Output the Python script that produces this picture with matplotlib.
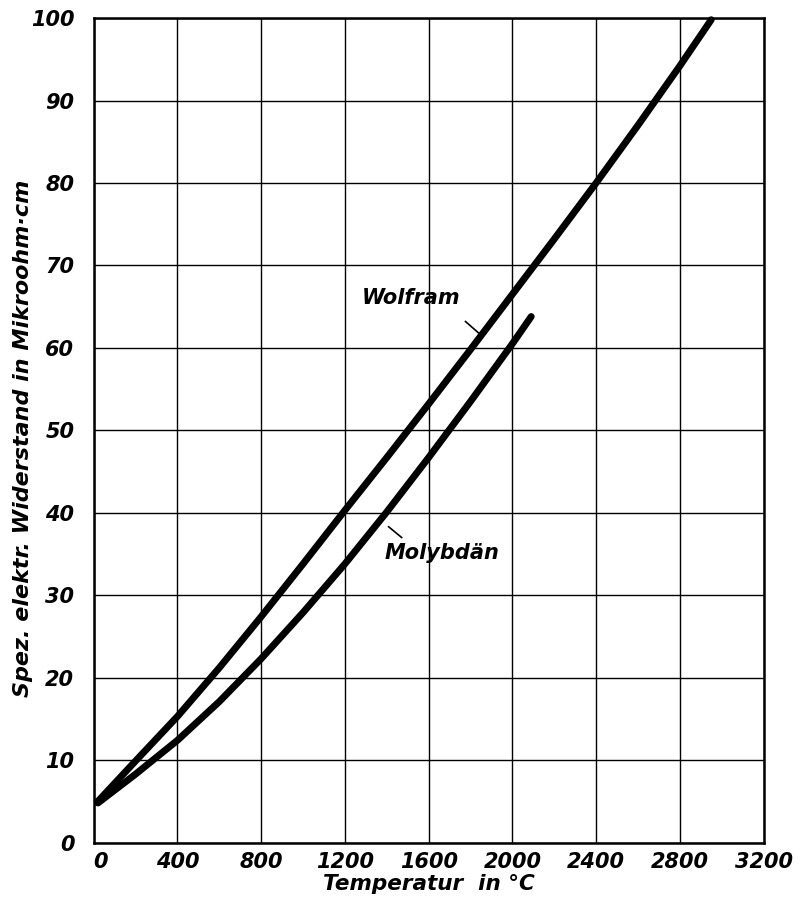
import numpy as np
import matplotlib.pyplot as plt

# Spezifischer Widerstand (Mikroohm*cm) ueber Temperatur (°C)
temp_w = [20, 200, 400, 600, 800, 1000, 1200, 1400, 1600, 1800, 2000, 2200, 2400, 2600, 2800, 2950]
rho_w = [5.0, 9.9, 15.3, 21.2, 27.4, 33.8, 40.3, 46.7, 53.2, 59.8, 66.5, 73.2, 80.0, 87.0, 94.2, 99.8]

temp_mo = [20, 200, 400, 600, 800, 1000, 1200, 1400, 1600, 1800, 2000, 2090]
rho_mo = [4.8, 8.3, 12.4, 17.1, 22.3, 27.9, 33.8, 40.1, 46.7, 53.5, 60.5, 63.8]

x_ticks = [0, 400, 800, 1200, 1600, 2000, 2400, 2800, 3200]
y_ticks = [0, 10, 20, 30, 40, 50, 60, 70, 80, 90, 100]

font = dict(family='DejaVu Sans', weight='bold', style='italic')

fig = plt.figure(figsize=(8.08, 9.05), dpi=100)
ax = fig.add_axes([0.116, 0.069, 0.829, 0.911])

ax.plot(temp_w, rho_w, color='black', lw=5, solid_capstyle='round',
        solid_joinstyle='round', zorder=3, clip_on=False)
ax.plot(temp_mo, rho_mo, color='black', lw=5, solid_capstyle='round',
        solid_joinstyle='round', zorder=3)

ax.set_xlim(0, 3200)
ax.set_ylim(0, 100)
ax.set_xticks(x_ticks)
ax.set_yticks(y_ticks)
ax.grid(True, color='black', lw=1.0)
ax.tick_params(length=0)
ax.tick_params(axis='y', pad=14)
ax.tick_params(axis='x', pad=7)
for s in ax.spines.values():
    s.set_linewidth(1.8)

ax.set_xticklabels([str(t) for t in x_ticks], fontsize=15, **font)
ax.set_yticklabels([str(t) for t in y_ticks], fontsize=15, **font)
ax.get_xticklabels()[0].set_horizontalalignment('left')

ax.set_xlabel('Temperatur  in °C', fontsize=15.5, labelpad=1, **font)
ax.set_ylabel('Spez. elektr. Widerstand in Mikroohm·cm', fontsize=16, **font)
ax.yaxis.set_label_coords(-0.09, 0.49)

# Kurvenbeschriftungen
ax.text(1280, 66, 'Wolfram', fontsize=15, va='center', ha='left', **font)
ax.plot([1776, 1848], [63.2, 61.6], color='black', lw=1.2)
ax.text(1390, 35.1, 'Molybdän', fontsize=15, va='center', ha='left', **font)
ax.plot([1409, 1471], [38.3, 37.0], color='black', lw=1.2)

fig.savefig('out.png', dpi=100)
